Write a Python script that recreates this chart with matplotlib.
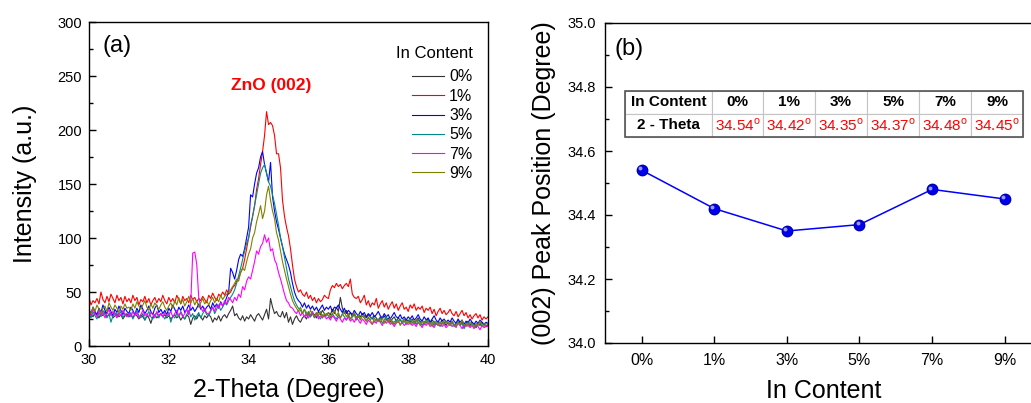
import numpy as np
import matplotlib
matplotlib.use("Agg")
import matplotlib.pyplot as plt
from matplotlib.patches import Rectangle
from matplotlib.ticker import MultipleLocator, FormatStrFormatter
from matplotlib.transforms import offset_copy

plt.rcParams['font.family'] = ['Liberation Sans', 'DejaVu Sans']
plt.rcParams['mathtext.fontset'] = 'custom'
plt.rcParams['mathtext.rm'] = 'Liberation Sans'

# ---------------- data: panel (a) ----------------
two_theta = np.round(np.arange(30.0, 40.0001, 0.05), 2)

series_labels = ["0%", "1%", "3%", "5%", "7%", "9%"]
series_colors = ["#333333", "#ff0000", "#0000ff", "#008b8b", "#ff00ff", "#808000"]

int_0 = [28,30,27,31,29,26,30,28,32,27,29,31,26,28,30,27,29,25,28,30,
         27,29,26,30,28,25,29,27,24,28,26,21,27,29,26,28,30,27,29,26,
         28,25,27,29,26,28,24,27,25,29,27,20,26,28,25,29,27,24,28,26,
         29,27,22,26,24,28,23,27,29,26,30,33,37,28,30,26,24,28,23,27,
         25,29,26,23,28,30,27,24,29,34,25,44,36,30,32,28,27,32,26,31,
         22,27,20,25,28,24,22,26,28,25,30,27,31,29,26,32,29,33,30,28,
         31,29,34,30,36,32,45,35,30,33,28,31,27,30,26,29,27,30,28,26,
         29,27,25,28,26,23,27,25,28,24,26,22,25,27,23,26,24,22,25,23,
         24,22,25,21,23,26,22,24,20,23,25,21,24,22,20,23,21,24,22,19,
         22,20,23,19,21,24,20,22,18,21,23,19,22,20,17,21,19,22,20,18,
         20]
int_1 = [45,38,42,40,44,39,50,43,40,46,41,48,44,40,47,42,45,39,46,41,
         44,40,47,42,45,38,43,41,46,40,44,38,42,45,40,44,41,47,42,39,
         45,41,44,40,47,43,39,46,42,44,40,47,43,45,41,44,42,46,43,40,
         47,44,49,45,42,48,46,50,47,52,48,50,54,56,60,63,68,72,80,90,
         100,110,120,130,145,155,168,180,195,217,205,207,204,195,178,178,165,135,120,110,
         102,90,75,62,55,50,52,48,46,50,44,47,42,45,40,44,41,43,47,45,
         44,52,56,54,58,55,57,53,56,58,55,62,48,45,44,46,40,43,47,38,
         42,36,40,38,44,35,39,42,36,40,34,38,41,35,39,33,37,40,34,36,
         32,38,35,39,33,36,34,37,31,35,33,36,30,34,28,32,35,30,33,29,
         31,34,30,28,32,27,30,33,28,31,26,29,25,28,30,26,29,24,27,25,
         27]
int_3 = [34,30,36,32,29,35,31,38,33,30,36,32,28,34,31,37,33,29,35,32,
         30,36,33,29,35,31,38,34,30,33,37,32,29,35,38,31,34,30,33,29,
         35,32,38,34,30,36,33,37,31,34,38,33,36,32,35,39,34,37,33,36,
         38,34,40,36,39,35,41,37,40,45,50,72,68,62,70,80,85,83,90,100,
         110,140,138,150,160,165,175,180,168,160,152,170,138,125,115,108,100,92,85,80,
         75,68,58,50,45,42,40,36,40,35,38,34,37,33,36,32,35,38,33,36,
         34,37,32,36,35,38,34,31,35,30,33,31,29,33,30,28,32,29,31,27,
         30,28,31,27,29,32,28,26,30,27,29,25,28,31,27,26,29,25,27,24,
         27,25,28,24,26,29,25,23,27,24,26,22,25,28,24,22,26,23,25,22,
         24,22,26,23,21,25,22,24,20,23,21,25,22,20,23,21,24,22,20,22,
         21]
int_5 = [30,26,32,28,25,31,27,33,29,26,30,22,28,31,27,29,32,26,30,28,
         27,31,25,29,33,28,26,30,24,28,32,27,25,29,31,26,30,28,25,29,
         31,22,28,26,30,27,32,28,25,29,33,27,30,24,28,31,26,30,33,29,
         28,32,36,30,34,38,33,36,40,38,42,45,48,52,58,65,72,80,88,95,
         100,112,120,130,140,150,160,165,168,160,152,148,140,132,122,112,100,92,82,72,
         62,55,48,42,38,35,33,30,34,28,32,27,30,26,31,28,25,29,27,30,
         28,26,30,27,25,29,26,30,27,24,28,25,27,29,24,27,25,28,26,23,
         26,24,27,22,25,23,26,21,24,27,22,25,23,20,24,22,25,21,23,20,
         22,25,21,23,20,24,22,19,23,21,24,20,22,19,23,21,18,22,20,23,
         21,19,22,18,20,23,19,21,16,20,22,18,21,19,17,20,22,18,21,19,
         19]
int_7 = [32,28,35,30,27,33,29,31,26,30,34,28,32,29,26,31,28,33,29,27,
         30,27,32,28,31,26,29,33,28,30,27,31,29,26,32,28,30,27,31,28,
         29,32,27,30,33,28,31,27,30,34,29,40,86,87,76,45,36,32,35,30,
         30,33,36,32,38,35,40,37,42,39,45,43,40,45,42,48,45,55,52,60,
         64,62,70,78,88,85,92,95,103,96,100,88,90,80,76,68,62,55,48,42,
         40,36,35,32,30,33,28,31,27,30,26,29,32,27,30,25,28,26,29,25,
         27,24,28,26,23,27,25,22,26,24,27,23,25,22,26,24,21,25,23,20,
         24,22,20,23,21,25,22,19,23,21,24,20,22,18,21,23,20,22,19,21,
         20,22,19,21,18,22,20,17,21,19,22,18,20,17,21,19,22,18,20,17,
         19,21,18,20,17,21,19,16,20,18,21,17,19,16,20,18,15,19,17,18,
         18]
int_9 = [33,30,36,32,38,34,30,35,37,32,40,36,33,38,35,31,37,34,39,35,
         36,33,39,35,41,37,34,38,42,36,33,39,35,40,37,34,38,41,36,33,
         37,40,35,42,38,45,39,43,37,41,46,40,44,38,42,36,40,44,39,42,
         38,42,45,40,44,41,47,43,46,48,50,52,55,58,62,60,68,72,70,78,
         85,90,100,105,115,122,130,118,125,140,148,135,125,118,105,98,88,78,70,62,
         55,48,42,38,35,32,36,30,34,31,28,33,30,27,31,28,32,26,30,28,
         31,27,30,33,28,31,26,29,32,27,30,25,28,31,26,29,24,28,26,23,
         27,24,20,26,23,25,22,26,21,24,22,25,20,23,21,24,19,22,25,21,
         23,20,24,21,25,22,19,23,21,24,20,22,18,23,21,19,22,20,24,21,
         22,19,23,20,18,22,20,24,19,21,18,22,20,17,21,19,23,20,18,21,
         20]

intensities = [int_0, int_1, int_3, int_5, int_7, int_9]

# ---------------- data: panel (b) ----------------
in_content = ["0%", "1%", "3%", "5%", "7%", "9%"]
peak_position = [34.54, 34.42, 34.35, 34.37, 34.48, 34.45]

# ---------------- figure ----------------
fig = plt.figure(figsize=(10.31, 4.03), dpi=100)

W, H = 1031.0, 403.0
axA = fig.add_axes([89 / W, 1 - 346 / H, 399 / W, 324 / H])
axB = fig.add_axes([605.4 / W, 1 - 343 / H, 435.6 / W, 320 / H])

# ----- panel (a) -----
for y, lab, col in zip(intensities, series_labels, series_colors):
    axA.plot(two_theta, y, color=col, lw=0.8, label=lab)

axA.set_xlim(30, 40)
axA.set_ylim(0, 300)
axA.xaxis.set_major_locator(MultipleLocator(2))
axA.xaxis.set_minor_locator(MultipleLocator(1))
axA.yaxis.set_major_locator(MultipleLocator(50))
axA.yaxis.set_minor_locator(MultipleLocator(25))
axA.tick_params(which='both', direction='in', top=False, right=False, labelsize=10.5)
axA.tick_params(which='major', length=5, width=1, pad=5)
axA.tick_params(which='minor', length=3, width=1)
axA.set_xlabel("2-Theta (Degree)", fontsize=18, labelpad=8)
axA.set_ylabel("Intensity (a.u.)", fontsize=18, labelpad=15)
axA.text(0.035, 0.925, "(a)", transform=axA.transAxes, fontsize=17, va='center', ha='left')
axA.text(34.56, 241, "ZnO (002)", color='#ff0000', fontsize=12.5, fontweight='bold',
         ha='center', va='center')
leg = axA.legend(title="In Content", loc='upper right', bbox_to_anchor=(0.985, 0.955),
                 frameon=False, fontsize=11.5, title_fontsize=12, handlelength=2.0,
                 labelspacing=0.27, handletextpad=0.35, borderaxespad=0.2)
leg._legend_box.align = "right"
leg._legend_box.sep = 6
for sp in axA.spines.values():
    sp.set_linewidth(1.0)

# ----- panel (b) -----
xpos = np.arange(len(in_content))
axB.plot(xpos, peak_position, color='#0000ff', lw=1.1, marker='o', markersize=7.5,
         markerfacecolor='#0000f0', markeredgecolor='#0000b0')
hl = offset_copy(axB.transData, fig=fig, x=-1.3, y=1.3, units='points')
axB.plot(xpos, peak_position, linestyle='none', marker='o', markersize=2.8,
         markerfacecolor='#9a9aff', markeredgewidth=0, transform=hl)
axB.set_xlim(-0.5, 5.5)
axB.set_ylim(34.0, 35.0)
axB.set_xticks(xpos)
axB.set_xticklabels(in_content)
axB.yaxis.set_major_locator(MultipleLocator(0.2))
axB.yaxis.set_minor_locator(MultipleLocator(0.1))
axB.yaxis.set_major_formatter(FormatStrFormatter('%.1f'))
axB.tick_params(which='both', direction='in', top=False, right=False, labelsize=10.5)
axB.tick_params(axis='x', labelsize=11.5)
axB.tick_params(which='major', length=5, width=1, pad=7)
axB.tick_params(which='minor', length=3, width=1)
axB.set_xlabel("In Content", fontsize=18, labelpad=8)
axB.set_ylabel("(002) Peak Position (Degree)", fontsize=18, labelpad=8)
axB.text(0.022, 0.92, "(b)", transform=axB.transAxes, fontsize=17, va='center', ha='left')
for sp in axB.spines.values():
    sp.set_linewidth(1.0)

# table
row_labels = ["In Content", "2 - Theta"]
cell_text = [[row_labels[0]] + in_content,
             [row_labels[1]] + [r"%.2f$^\mathregular{o}$" % v for v in peak_position]]
col_px = [87, 51, 52, 52, 52, 52, 52]
tot = float(sum(col_px))
tx0, ty0, tw, th = 0.045, 0.644, 0.9137, 0.1437
tab = axB.table(cellText=cell_text, cellLoc='center',
                colWidths=[c / tot * tw for c in col_px],
                bbox=[tx0, ty0, tw, th])
tab.auto_set_font_size(False)
tab.set_fontsize(11)
for (r, c), cell in tab.get_celld().items():
    cell.set_edgecolor('#c4c4c4')
    cell.set_linewidth(0.8)
    cell.set_facecolor('white')
    cell.PAD = 0.03
    t = cell.get_text()
    if r == 0 or c == 0:
        t.set_fontweight('bold')
        t.set_color('black')
    else:
        t.set_color('#ff0000')
axB.add_patch(Rectangle((tx0, ty0), tw, th, transform=axB.transAxes, fill=False,
                        edgecolor='#555555', lw=1.2, zorder=10))

fig.savefig("out.png", dpi=100)
